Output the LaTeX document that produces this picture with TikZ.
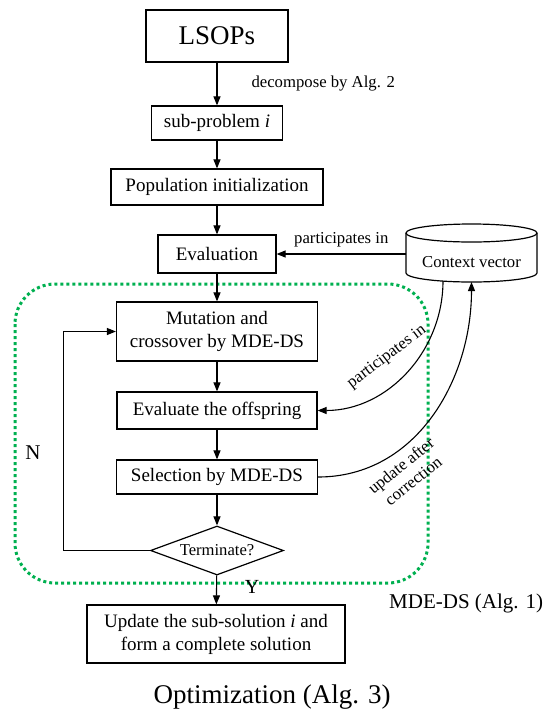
\documentclass[tikz,border=0pt]{standalone}
\usepackage{fontspec}
\setmainfont{Liberation Serif}
\usetikzlibrary{arrows.meta,shapes.geometric}
\definecolor{dsgreen}{RGB}{0,176,80}
\begin{document}
\begin{tikzpicture}[x=1pt,y=-1pt,
  box/.style={draw,line width=1.2pt,inner sep=0pt,align=center,font=\fontsize{19}{23}\selectfont},
  arr/.style={line width=1.1pt,-{Triangle[length=9pt,width=7pt]}},
  lbl/.style={font=\fontsize{16.7}{19.5}\selectfont,inner sep=0pt,align=center},
  big/.style={inner sep=0pt,font=\fontsize{21}{24}\selectfont}]
\useasboundingbox (0,0) rectangle (544,716);
% MDE-DS region
\draw[dsgreen,line width=3pt,dash pattern=on 3pt off 3pt,rounded corners=40pt] (15,284) rectangle (428,583);
% main nodes
\node[box,minimum width=142,minimum height=52,font=\fontsize{27}{30}\selectfont] (lsops) at (217,36) {LSOPs};
\node[box,minimum width=131,minimum height=34] (sub) at (217,123) {sub-problem \textit{i}};
\node[box,minimum width=212,minimum height=36] (pop) at (217,187) {Population initialization};
\node[box,minimum width=118,minimum height=38] (eval) at (217,254) {Evaluation};
\node[box,minimum width=201,minimum height=59] (mut) at (217,331.5) {Mutation and\\crossover by MDE-DS};
\node[box,minimum width=200,minimum height=37] (off) at (217,410.5) {Evaluate the offspring};
\node[box,minimum width=201,minimum height=34] (sel) at (217,477) {Selection by MDE-DS};
\node[draw,diamond,line width=1.2pt,inner sep=0pt,minimum width=133,minimum height=49,aspect=2.7,font=\fontsize{16.6}{19}\selectfont] (term) at (217,550.5) {Terminate?};
\node[box,minimum width=258,minimum height=58] (upd) at (216,634) {Update the sub-solution \textit{i} and\\form a complete solution};
% context vector cylinder
\draw[line width=1.2pt] (406,233) -- (406,273) arc[start angle=180,end angle=0,x radius=65.5,y radius=9] -- (537,233);
\draw[line width=1.2pt] (471.5,233) ellipse[x radius=65.5,y radius=9];
\node[lbl] (cv) at (471.5,262) {Context vector};
\coordinate (cvl) at (406,254);
\coordinate (cvb1) at (443,281);
\coordinate (cvb2) at (471.5,282);
% connectors
\draw[arr] (lsops) -- node[lbl,anchor=west,xshift=34pt] {decompose by Alg. 2} (sub);
\draw[arr] (sub) -- (pop);
\draw[arr] (pop) -- (eval);
\draw[arr] (eval) -- (mut);
\draw[arr] (mut) -- (off);
\draw[arr] (off) -- (sel);
\draw[arr] (sel) -- (term);
\draw[arr] (term) -- (upd);
\draw[arr] (term.west) -- ++(-86.5,0) |- (mut.west);
\draw[arr] (cvl) -- node[lbl,above=6pt] {participates in} (eval.east);
\draw[arr] (cvb1) .. controls +(0,70) and +(70,0) .. (off.east);
\draw[arr] (sel.east) .. controls +(98,0) and +(0,98) .. (cvb2);
% labels
\node[lbl,rotate=37] (pl) at (387,357) {participates in};
\node[lbl,rotate=39] (ul) at (407,473) {update after\\correction};
\node[big] (nl) at (33,453) {N};
\node[big,font=\fontsize{20}{24}\selectfont] (yl) at (252,587) {Y};
\node[big,anchor=west] (mde) at (389,603) {MDE-DS (Alg. 1)};
\node[big,font=\fontsize{27}{30}\selectfont] (opt) at (272,697) {Optimization (Alg. 3)};
\end{tikzpicture}
\end{document}
